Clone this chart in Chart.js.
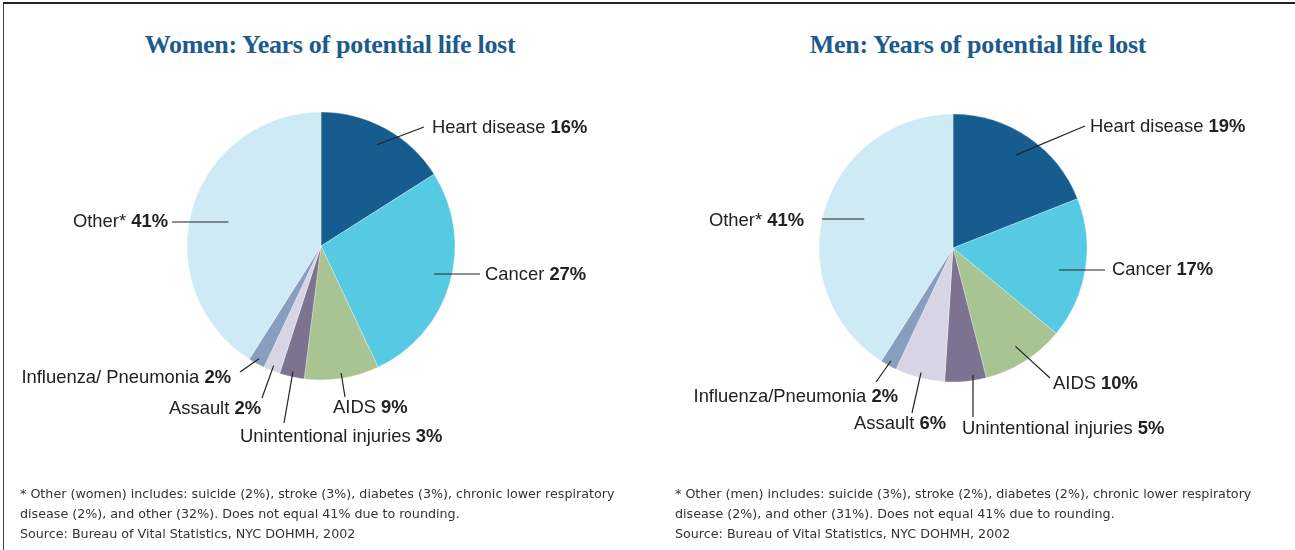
<!DOCTYPE html>
<html>
<head>
<meta charset="utf-8">
<script src="https://cdn.jsdelivr.net/npm/chart.js@4"></script>
<style>
  body { margin: 0; background: #fff; width: 1295px; height: 550px; position: relative; overflow: hidden; }
  .frame { position: absolute; left: 3px; top: 2px; width: 1292px; height: 548px; border-top: 2px solid #222; border-left: 1px solid #444; box-sizing: border-box; }
  .wrap { position: absolute; top: 0; height: 550px; }
  .title { position: absolute; top: 30px; font-family: "Liberation Serif", serif; font-weight: bold; font-size: 26px; color: #1d5b8c; white-space: nowrap; transform: translateX(-50%); letter-spacing: -0.3px; }
  .note { position: absolute; top: 484px; font-family: "DejaVu Sans", sans-serif; font-size: 12.7px; line-height: 20px; color: #333; white-space: nowrap; }
</style>
</head>
<body>
<div class="frame"></div>
<div class="title" style="left:330px">Women: Years of potential life lost</div>
<div class="title" style="left:978px">Men: Years of potential life lost</div>
<div class="wrap" style="left:0;width:647px"><canvas id="women"></canvas></div>
<div class="wrap" style="left:647px;width:648px"><canvas id="men"></canvas></div>
<div class="note" style="left:20px">* Other (women) includes: suicide (2%), stroke (3%), diabetes (3%), chronic lower respiratory<br>disease (2%), and other (32%). Does not equal 41% due to rounding.<br>Source: Bureau of Vital Statistics, NYC DOHMH, 2002</div>
<div class="note" style="left:675px">* Other (men) includes: suicide (3%), stroke (2%), diabetes (2%), chronic lower respiratory<br>disease (2%), and other (31%). Does not equal 41% due to rounding.<br>Source: Bureau of Vital Statistics, NYC DOHMH, 2002</div>
<script>
// data
const womenLabels = ['Heart disease', 'Cancer', 'AIDS', 'Unintentional injuries', 'Assault', 'Influenza/ Pneumonia', 'Other*'];
const menLabels = ['Heart disease', 'Cancer', 'AIDS', 'Unintentional injuries', 'Assault', 'Influenza/Pneumonia', 'Other*'];
const womenValues = [16, 27, 9, 3, 2, 2, 41];
const menValues = [19, 17, 10, 5, 6, 2, 41];

const colors = ['#165c8e', '#56cae2', '#a7c492', '#7b7390', '#d7d4e5', '#889ebf', '#ceebf5'];

// leader lines: f = start as fraction of radius, end (ex,ey) and text (tx,ty) relative to the pie centre
// flat: horizontal line at ey, vert: vertical line at ex
const womenCallouts = [
  { f: 0.86, ex: 103, ey: -119, tx: 111, ty: -118, align: 'left' },
  { f: 0.88, ex: 159, ey: 28, tx: 164, ty: 29, align: 'left', flat: true },
  { f: 0.96, ex: 24, ey: 151, tx: 12, ty: 162, align: 'left' },
  { f: 0.96, ex: -37, ey: 177, tx: -81, ty: 191, align: 'left' },
  { f: 0.96, ex: -59, ey: 152, tx: -60, ty: 163, align: 'right' },
  { f: 0.96, ex: -81, ey: 126, tx: -90, ty: 132, align: 'right' },
  { f: 0.72, ex: -149, ey: -24, tx: -153, ty: -24, align: 'right', flat: true }
];
const menCallouts = [
  { f: 0.84, ex: 132, ey: -122, tx: 137, ty: -121, align: 'left' },
  { f: 0.80, ex: 152, ey: 22, tx: 159, ty: 22, align: 'left', flat: true },
  { f: 0.87, ex: 97, ey: 130, tx: 100, ty: 136, align: 'left' },
  { f: 0.95, ex: 20, ey: 169, tx: 9, ty: 181, align: 'left', vert: true },
  { f: 0.96, ex: -41, ey: 165, tx: -7, ty: 176, align: 'right' },
  { f: 0.96, ex: -77, ey: 134, tx: -55, ty: 149, align: 'right' },
  { f: 0.69, ex: -131, ey: -29, tx: -149, ty: -27, align: 'right', flat: true }
];

const FONT = '18.4px "Liberation Sans", Arial, sans-serif';
const FONT_B = 'bold 18.4px "Liberation Sans", Arial, sans-serif';

function calloutPlugin(items) {
  return {
    id: 'callouts',
    afterDraw(chart) {
      const ctx = chart.ctx;
      const meta = chart.getDatasetMeta(0);
      const names = chart.data.labels;
      const vals = chart.data.datasets[0].data;
      ctx.save();
      meta.data.forEach((arc, i) => {
        const c = items[i];
        const mid = (arc.startAngle + arc.endAngle) / 2;
        let sx = arc.x + Math.cos(mid) * arc.outerRadius * c.f;
        let sy = arc.y + Math.sin(mid) * arc.outerRadius * c.f;
        if (c.flat === true) sy = arc.y + c.ey;
        if (c.vert === true) sx = arc.x + c.ex;
        ctx.strokeStyle = '#222';
        ctx.lineWidth = 1.2;
        ctx.beginPath();
        ctx.moveTo(sx, sy);
        ctx.lineTo(arc.x + c.ex, arc.y + c.ey);
        ctx.stroke();

        const name = names[i] + ' ';
        const pct = vals[i] + '%';
        ctx.textBaseline = 'middle';
        ctx.fillStyle = '#222';
        ctx.font = FONT;
        const w1 = ctx.measureText(name).width;
        ctx.font = FONT_B;
        const w2 = ctx.measureText(pct).width;
        let x = arc.x + c.tx;
        if (c.align === 'right') x -= w1 + w2;
        const y = arc.y + c.ty;
        ctx.textAlign = 'left';
        ctx.font = FONT;
        ctx.fillText(name, x, y);
        ctx.font = FONT_B;
        ctx.fillText(pct, x + w1, y);
      });
      ctx.restore();
    }
  };
}

function makePie(id, labels, values, callouts, padding) {
  const ctx = document.getElementById(id).getContext('2d');
  return new Chart(ctx, {
    type: 'pie',
    data: {
      labels: labels,
      datasets: [{
        data: values,
        backgroundColor: colors,
        borderColor: 'rgba(255,255,255,0.5)',
        borderWidth: 0.6,
        hoverOffset: 0,
        radius: 134
      }]
    },
    options: {
      responsive: true,
      maintainAspectRatio: false,
      animation: false,
      layout: { padding: padding },
      events: [],
      plugins: {
        legend: { display: false },
        tooltip: { enabled: false }
      }
    },
    plugins: [calloutPlugin(callouts)]
  });
}

makePie('women', womenLabels, womenValues, womenCallouts, { left: 187, right: 192, top: 112, bottom: 170 });
makePie('men', menLabels, menValues, menCallouts, { left: 172, right: 208, top: 114, bottom: 168 });
</script>
</body>
</html>
